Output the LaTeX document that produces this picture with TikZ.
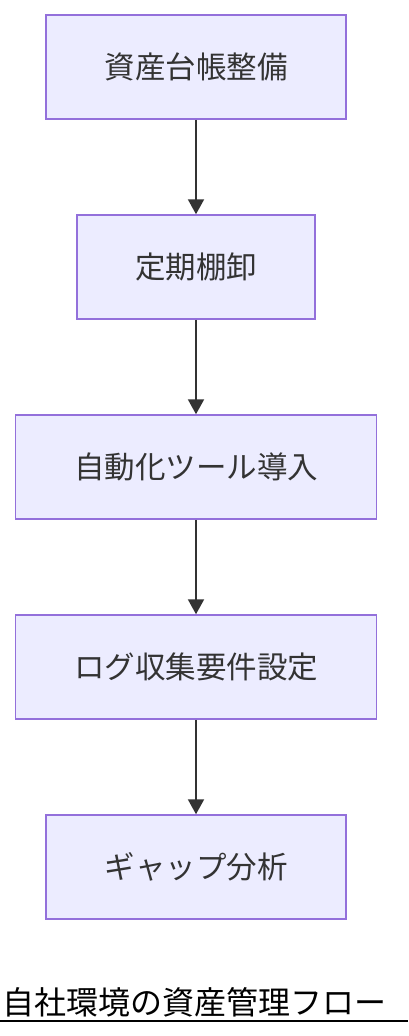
\documentclass[tikz,border=0pt]{standalone}
\usepackage{fontspec}
\newfontfamily\cjk{Noto Sans CJK JP}
\usetikzlibrary{arrows.meta}
\definecolor{nodefill}{HTML}{ECECFF}
\definecolor{nodeline}{HTML}{9370DB}
\definecolor{edgecol}{HTML}{333333}
\tikzset{
  stepbox/.style={draw=nodeline, fill=nodefill, line width=1.5pt, rectangle, inner sep=0pt,
    font=\cjk\fontsize{30.5}{36}\selectfont, text=edgecol},
  flow/.style={draw=edgecol, line width=2pt, -{Triangle[length=15pt,width=16pt]}},
}
\begin{document}
\begin{tikzpicture}[x=1pt,y=-1pt]
\useasboundingbox (0,0) rectangle (408,1036);
\node[stepbox, minimum width=300pt, minimum height=104pt] (a) at (196,67) {資産台帳整備};
\node[stepbox, minimum width=238pt, minimum height=104pt] (b) at (196,267) {定期棚卸};
\node[stepbox, minimum width=361pt, minimum height=104pt] (c) at (196,467) {自動化ツール導入};
\node[stepbox, minimum width=361pt, minimum height=104pt] (d) at (196,667) {ログ収集要件設定};
\node[stepbox, minimum width=300pt, minimum height=104pt] (e) at (196,867) {ギャップ分析};
\draw[flow] (a) -- (b);
\draw[flow] (b) -- (c);
\draw[flow] (c) -- (d);
\draw[flow] (d) -- (e);
\node[anchor=west, inner sep=0pt, font=\cjk\fontsize{32}{38}\selectfont, text=black] (t) at (2,1002) {自社環境の資産管理フロー};
\coordinate (ul) at (0,1021);
\coordinate (ur) at (408,1021);
\draw[black, line width=2pt] (ul) -- (ur);
\end{tikzpicture}
\end{document}
